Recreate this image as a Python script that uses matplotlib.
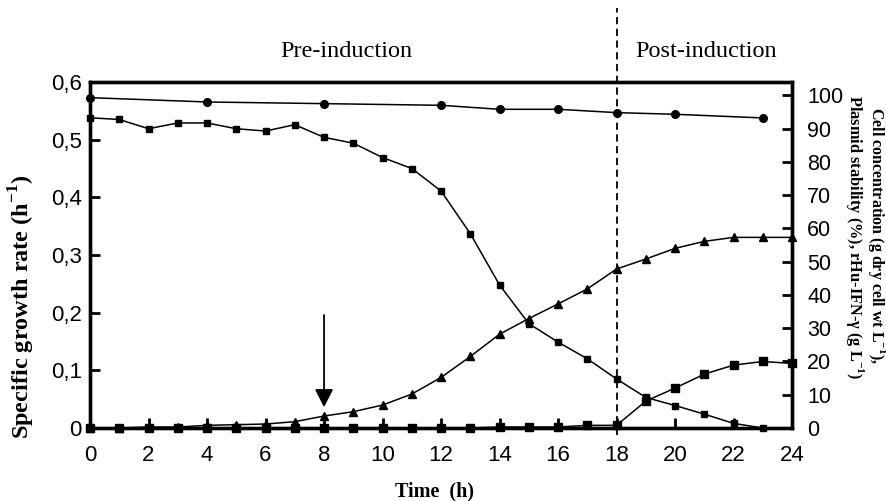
import matplotlib
matplotlib.use("Agg")
import matplotlib.pyplot as plt

plt.rcParams['font.family'] = ['Liberation Sans', 'DejaVu Sans']
plt.rcParams['mathtext.fontset'] = 'custom'
plt.rcParams['mathtext.rm'] = 'Liberation Serif'
plt.rcParams['mathtext.bf'] = 'Liberation Serif:bold'

# data
time_h = list(range(25))
growth_time = list(range(24))
growth_rate = [0.538, 0.535, 0.519, 0.529, 0.529, 0.519, 0.515, 0.526, 0.504, 0.494,
               0.469, 0.450, 0.411, 0.337, 0.248, 0.181, 0.149, 0.120, 0.085, 0.053,
               0.039, 0.024, 0.008, 0.0]
plasmid_time = [0, 4, 8, 12, 14, 16, 18, 20, 23]
plasmid_stability = [99.3, 98.0, 97.5, 97.0, 95.8, 95.8, 94.8, 94.3, 93.2]
cell_conc = [0, 0, 0.3, 0.3, 0.8, 1.0, 1.2, 1.9, 3.6, 4.9, 6.9, 10.2, 15.2, 21.5,
             28.2, 32.9, 37.3, 41.8, 47.8, 50.8, 54.0, 56.1, 57.3, 57.3, 57.3]
ifn = [0, 0, 0, 0, 0, 0, 0, 0, 0, 0, 0, 0, 0, 0,
       0.3, 0.3, 0.3, 0.8, 0.8, 8.1, 12.0, 16.2, 18.9, 20.0, 19.4]

left_ticks = [0, 0.1, 0.2, 0.3, 0.4, 0.5, 0.6]
left_labels = ['0', '0,1', '0,2', '0,3', '0,4', '0,5', '0,6']
right_ticks = list(range(0, 101, 10))
x_ticks = list(range(0, 25, 2))

fig = plt.figure(figsize=(8.87, 5.01), dpi=100)
ax = fig.add_axes([0.1015, 0.1457, 0.7915, 0.6906])
ax2 = ax.twinx()

ax.plot(growth_time, growth_rate, color='black', lw=1.1, marker='s', ms=4.5,
        clip_on=False, zorder=3)
ax2.plot(plasmid_time, plasmid_stability, color='black', lw=1.1, marker='o', ms=5.5,
         clip_on=False)
ax2.plot(time_h, cell_conc, color='black', lw=1.1, marker='^', ms=5.5, clip_on=False)
ax2.plot(time_h, ifn, color='black', lw=1.1, marker='s', ms=6, clip_on=False)

ax.set_xlim(0, 24)
ax.set_ylim(0, 0.6)
ax2.set_ylim(0, 104)
ax.set_xticks(x_ticks)
ax.set_yticks(left_ticks)
ax.set_yticklabels(left_labels)
ax2.set_yticks(right_ticks)

ax.tick_params(axis='both', direction='in', length=7, width=2, labelsize=16)
ax.tick_params(axis='x', pad=12)
ax.tick_params(axis='y', pad=6)
ax2.tick_params(axis='y', direction='in', length=7, width=2, labelsize=15.5, pad=11)
for a in (ax, ax2):
    for s in a.spines.values():
        s.set_linewidth(2.4)

# induction line
ax.plot([18, 18], [-0.02, 1.214], transform=ax.get_xaxis_transform(), color='black',
        lw=1.3, ls=(0, (4, 2.5)), clip_on=False)
ax.text(8.77, 1.087, 'Pre-induction', transform=ax.get_xaxis_transform(),
        ha='center', va='center', fontsize=17.5, family='Liberation Serif')
ax.text(21.06, 1.087, 'Post-induction', transform=ax.get_xaxis_transform(),
        ha='center', va='center', fontsize=17.5, family='Liberation Serif')

ax.annotate('', xy=(8, 0.036), xytext=(8, 0.196),
            arrowprops=dict(arrowstyle='-|>,head_length=0.55,head_width=0.28',
                            mutation_scale=20, color='black', lw=1.3,
                            shrinkA=0, shrinkB=0))

fig.text(22 / 887, 1 - 307 / 501, r'Specific growth rate (h$^{\mathbf{-1}}$)',
         rotation=90, ha='center', va='center', fontsize=17.5,
         family='Liberation Serif', weight='bold')
fig.text(435 / 887, 1 - 491 / 501, 'Time  (h)', ha='center', va='center',
         fontsize=14.5, family='Liberation Serif', weight='bold')
fig.text(877 / 887, 1 - 236 / 501, r'Cell concentration (g dry cell wt L$^{\mathbf{-1}}$),',
         rotation=270, ha='center', va='center', fontsize=11.5,
         family='Liberation Serif', weight='bold')
fig.text(855 / 887, 1 - 237 / 501, r'Plasmid stability (%), rHu-IFN-γ (g L$^{\mathbf{-1}}$)',
         rotation=270, ha='center', va='center', fontsize=11.8,
         family='Liberation Serif', weight='bold')

fig.savefig('out.png', dpi=100)
